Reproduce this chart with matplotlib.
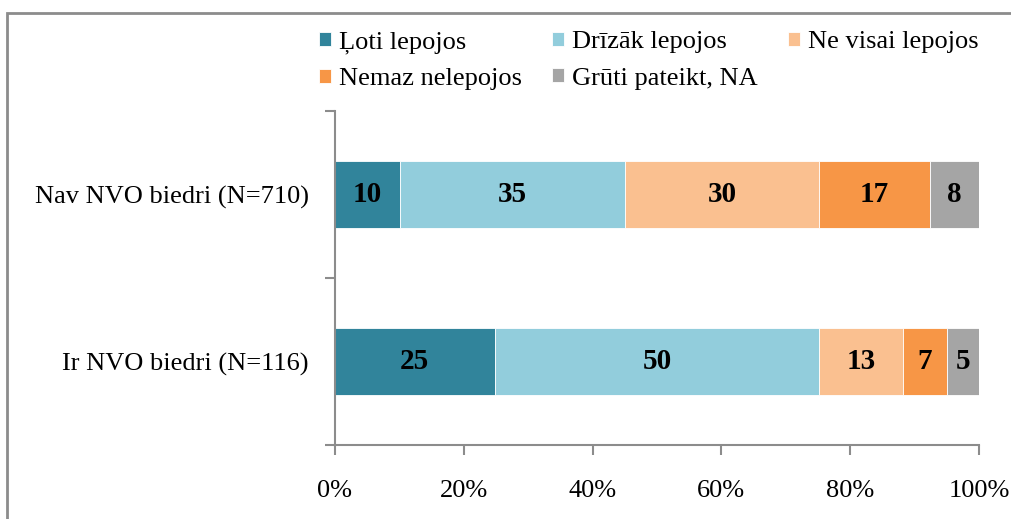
import matplotlib.pyplot as plt
from matplotlib.patches import Rectangle
from matplotlib.ticker import PercentFormatter

# Data
groups = ['Ir NVO biedri (N=116)', 'Nav NVO biedri (N=710)']
answers = ['Ļoti lepojos', 'Drīzāk lepojos', 'Ne visai lepojos',
           'Nemaz nelepojos', 'Grūti pateikt, NA']
# bar widths (percent), bottom group first
very_proud = [24.8, 10.1]
rather_proud = [50.4, 34.9]
not_very_proud = [13.0, 30.2]
not_at_all = [6.8, 17.2]
hard_to_say = [5.0, 7.6]
# printed labels
labels_very = ['25', '10']
labels_rather = ['50', '35']
labels_notvery = ['13', '30']
labels_notall = ['7', '17']
labels_hard = ['5', '8']

colors = ['#31849B', '#92CDDC', '#FAC090', '#F79646', '#A5A5A5']
series = [very_proud, rather_proud, not_very_proud, not_at_all, hard_to_say]
series_labels = [labels_very, labels_rather, labels_notvery, labels_notall, labels_hard]

plt.rcParams['font.family'] = ['Liberation Serif', 'DejaVu Serif']

fig = plt.figure(figsize=(10.12, 5.19), dpi=100)
ax = fig.add_axes([335 / 1012, 1 - 445 / 519, (979 - 335) / 1012, (445 - 111) / 519])

# chart area border (cut off on the right and bottom)
fig.patches.append(Rectangle((7 / 1012, -0.1), 1.2, 1 - 13 / 519 + 0.1,
                             transform=fig.transFigure, fill=False,
                             edgecolor='#8C8C8C', linewidth=2))

ypos = list(range(len(groups)))
left = [0.0] * len(groups)
handles = []
for vals, labs, col, name in zip(series, series_labels, colors, answers):
    bars = ax.barh(ypos, vals, left=left, height=0.4, color=col,
                   edgecolor='white', linewidth=0.6, label=name)
    handles.append(bars)
    for b, lab in zip(bars, labs):
        ax.text(b.get_x() + b.get_width() / 2, b.get_y() + b.get_height() / 2,
                lab, ha='center', va='center', fontsize=21, fontweight='bold')
    left = [l + v for l, v in zip(left, vals)]

ax.set_xlim(0, 100)
ax.set_ylim(-0.5, 1.5)
ax.set_xticks([0, 20, 40, 60, 80, 100])
ax.xaxis.set_major_formatter(PercentFormatter(decimals=0))
ax.set_yticks([-0.5, 0.5, 1.5])
ax.set_yticklabels([])
ax.set_yticks(ypos, minor=True)
ax.set_yticklabels(groups, minor=True)
ax.tick_params(axis='y', which='minor', length=0, pad=19, labelsize=19)
ax.tick_params(axis='y', which='major', length=7, color='#8C8C8C', width=1.5)
ax.tick_params(axis='x', length=7, color='#8C8C8C', width=1.5, pad=18, labelsize=19)

for s in ['top', 'right']:
    ax.spines[s].set_visible(False)
for s in ['left', 'bottom']:
    ax.spines[s].set_color('#8C8C8C')
    ax.spines[s].set_linewidth(1.5)

order = [0, 3, 1, 4, 2]
fig.legend([handles[i] for i in order], [answers[i] for i in order],
           ncol=3, loc='upper left', bbox_to_anchor=(319 / 1012, 1 - 31 / 519),
           frameon=False, fontsize=19, handlelength=0.45, handleheight=0.45,
           handletextpad=0.3, columnspacing=1.15, labelspacing=0.55,
           borderaxespad=0, borderpad=0)

fig.savefig('out.png', dpi=100)
